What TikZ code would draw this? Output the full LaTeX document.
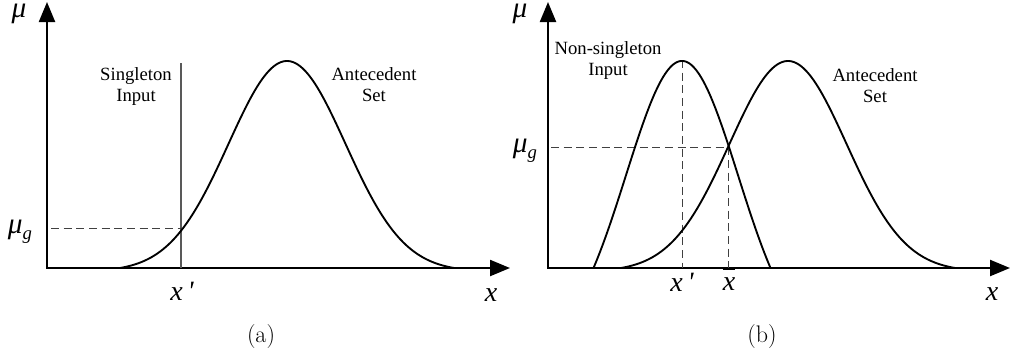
\documentclass[tikz,border=0pt]{standalone}
\usepackage{fontspec}
\usetikzlibrary{arrows.meta}
\newfontfamily\tnr{Liberation Serif}
\newcommand{\tnrit}{\tnr\itshape}
\begin{document}
\begin{tikzpicture}[x=0.75pt,y=-0.75pt,
  axes/.style={line width=1.7pt, line join=miter,
    {Triangle[length=15pt,width=12pt]}-{Triangle[length=15pt,width=12pt]}},
  curve/.style={line width=1.4pt, black},
  guide/.style={dash pattern=on 6pt off 3.5pt, line width=0.75pt, black!75},
  sline/.style={line width=0.8pt, black!65},
  txt/.style={font=\tnr\fontsize{14}{15.5}\selectfont, align=center, inner sep=0, anchor=base},
  sym/.style={font=\tnrit\fontsize{21}{21}\selectfont, inner sep=0, anchor=base},
  musym/.style={font=\tnrit\fontsize{22}{22}\selectfont, inner sep=0, anchor=base},
  captxt/.style={font=\fontsize{18}{18}\selectfont, inner sep=0, anchor=base}]
\useasboundingbox (0,0) rectangle (1012,358);
\pgfmathsetmacro\gA{exp(-0.5*(167/58.5)^2)}
\pgfmathsetmacro\gN{exp(-0.5*(88.5/56)^2)}
% ---------- panel (a)
\coordinate (oa) at (47,268);
\coordinate (ya) at (47,2);
\coordinate (xa) at (510,268);
\draw[axes] (ya) -- (oa) -- (xa);
\coordinate (sa) at (181,63);
\coordinate (sb) at (181,268);
\coordinate (pa) at (181,228);
\coordinate (ga) at (51,228);
\draw[sline] (sa) -- (sb);
\draw[guide] (ga) -- (pa);
\draw[curve] plot[domain=120:454, samples=140, smooth]
  (\x, {268-207*(exp(-0.5*((\x-287)/58.5)^2)-\gA)/(1-\gA)});
\node[musym] (mua) at (19,17) {μ};
\node[musym] (mga) at (20,233) {μ\raisebox{-5pt}{\fontsize{14}{14}\selectfont g}};
\node[sym] (xpa) at (182,300) {x\,\textquotesingle};
\node[sym] (xla) at (491,301) {x};
\node[txt] (sin) at (136,101) {Singleton\\Input};
\node[txt] (anta) at (374,101) {Antecedent\\Set};
\node[captxt] (capa) at (261,342) {(a)};
% ---------- panel (b)
\coordinate (ob) at (548,268);
\coordinate (yb) at (548,2);
\coordinate (xb) at (1010,268);
\draw[axes] (yb) -- (ob) -- (xb);
\coordinate (pk) at (682,60);
\coordinate (pkb) at (682,268);
\coordinate (ix) at (728,147);
\coordinate (ixb) at (728,268);
\coordinate (gb) at (551,147);
\draw[guide] (pk) -- (pkb);
\draw[guide] (gb) -- (ix) -- (ixb);
\draw[curve] plot[domain=593.5:770.5, samples=120, smooth]
  (\x, {268-207*(exp(-0.5*((\x-682)/56)^2)-\gN)/(1-\gN)});
\draw[curve] plot[domain=621:955, samples=140, smooth]
  (\x, {268-207*(exp(-0.5*((\x-788)/58.5)^2)-\gA)/(1-\gA)});
\node[musym] (mub) at (520,17) {μ};
\node[musym] (mgb) at (525,152) {μ\raisebox{-5pt}{\fontsize{14}{14}\selectfont g}};
\node[sym] (xpb) at (682,291) {x\,\textquotesingle};
\node[sym] (xbar) at (729,290) {$\overline{\hbox{\tnrit\fontsize{21}{21}\selectfont x}\rule{0pt}{14pt}}$};
\node[sym] (xlb) at (992,300) {x};
\node[txt] (nsin) at (608,75) {Non-singleton\\Input};
\node[txt] (antb) at (875,102) {Antecedent\\Set};
\node[captxt] (capb) at (762,342) {(b)};
\end{tikzpicture}
\end{document}
